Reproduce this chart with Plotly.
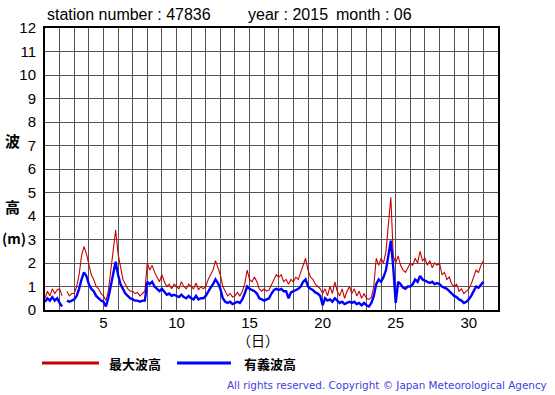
import plotly.graph_objects as go

# Observation times (hours from 1 June 00:00, 4-hourly)
hours = list(range(0, 724, 4))

# 最大波高 (maximum wave height, m) - 6 values per day, plus final point
max_wave = [
    0.5, 0.8, 0.6, 0.9, 0.7, 0.85,   # 1
    0.9, 0.6, None, 0.8, 0.6, 0.7,   # 2
    0.7, 1.0, 1.5, 2.3, 2.7, 2.4,    # 3
    1.9, 1.5, 1.3, 1.0, 0.9, 0.7,    # 4
    0.6, 0.4, 0.8, 1.6, 2.6, 3.4,    # 5
    2.4, 1.8, 1.3, 1.1, 0.9, 0.8,    # 6
    0.8, 0.7, 0.75, 0.6, 0.7, 0.8,   # 7
    2.0, 1.7, 1.9, 1.6, 1.4, 1.2,    # 8
    1.5, 1.2, 1.0, 1.1, 0.9, 1.1,    # 9
    1.0, 0.9, 1.2, 1.0, 0.9, 1.1,    # 10
    1.0, 0.9, 1.15, 0.85, 1.0, 0.9,  # 11
    1.0, 1.3, 1.5, 1.7, 2.1, 1.8,    # 12
    1.5, 1.0, 0.8, 0.6, 0.7, 0.55,   # 13
    0.6, 0.75, 0.6, 0.8, 1.1, 1.7,   # 14
    1.3, 1.2, 1.4, 1.2, 0.9, 0.8,    # 15
    0.9, 0.8, 0.85, 1.1, 1.3, 1.5,   # 16
    1.4, 1.5, 1.2, 1.3, 1.1, 1.3,    # 17
    1.2, 1.4, 1.3, 1.6, 1.9, 2.2,    # 18
    1.7, 1.4, 1.3, 1.1, 1.0, 0.9,    # 19
    0.7, 0.9, 0.6, 1.0, 0.7, 1.2,    # 20
    0.8, 0.6, 0.9, 0.5, 0.8, 1.0,    # 21
    0.7, 0.9, 0.6, 0.8, 0.5, 0.7,    # 22
    0.5, 0.45, 0.55, 1.0, 2.2, 1.9,  # 23
    2.2, 2.0, 2.5, 3.6, 4.8, 2.3,    # 24
    2.0, 2.3, 1.9, 1.7, 1.6, 1.8,    # 25
    2.0, 1.9, 2.2, 2.0, 2.5, 2.1,    # 26
    2.2, 1.9, 2.1, 1.8, 2.0, 1.9,    # 27
    2.0, 1.5, 1.6, 1.3, 1.4, 1.1,    # 28
    1.0, 1.1, 0.8, 0.9, 0.7, 0.8,    # 29
    0.9, 1.1, 1.4, 1.7, 1.6, 1.9,    # 30
    2.1,
]

# 有義波高 (significant wave height, m)
sig_wave = [
    0.35, 0.5, 0.4, 0.55, 0.4, 0.5,  # 1
    0.3, 0.15, None, 0.4, 0.35, 0.4, # 2
    0.45, 0.6, 0.9, 1.3, 1.6, 1.45,  # 3
    1.1, 0.9, 0.8, 0.6, 0.5, 0.4,    # 4
    0.35, 0.15, 0.5, 1.0, 1.6, 2.05, # 5
    1.5, 1.1, 0.9, 0.7, 0.6, 0.5,    # 6
    0.45, 0.4, 0.4, 0.35, 0.4, 0.4,  # 7
    1.2, 1.1, 1.2, 1.0, 0.9, 0.8,    # 8
    0.9, 0.75, 0.65, 0.7, 0.6, 0.65, # 9
    0.6, 0.55, 0.65, 0.55, 0.5, 0.6, # 10
    0.5, 0.45, 0.6, 0.45, 0.5, 0.5,  # 11
    0.6, 0.8, 0.95, 1.1, 1.3, 1.15,  # 12
    0.9, 0.5, 0.35, 0.3, 0.35, 0.25, # 13
    0.3, 0.35, 0.3, 0.45, 0.7, 1.0,  # 14
    0.9, 0.85, 0.8, 0.7, 0.5, 0.45,  # 15
    0.4, 0.45, 0.5, 0.7, 0.85, 0.9,  # 16
    0.85, 0.9, 0.8, 0.8, 0.5, 0.75,  # 17
    0.8, 0.85, 0.9, 1.0, 1.2, 1.3,   # 18
    1.0, 0.9, 0.85, 0.75, 0.7, 0.6,  # 19
    0.2, 0.5, 0.4, 0.45, 0.35, 0.5,  # 20
    0.4, 0.3, 0.35, 0.25, 0.3, 0.35, # 21
    0.3, 0.35, 0.25, 0.3, 0.2, 0.3,  # 22
    0.2, 0.15, 0.3, 0.6, 1.1, 1.3,   # 23
    1.2, 1.4, 1.7, 2.3, 2.95, 1.8,   # 24
    0.3, 1.2, 1.1, 0.95, 0.9, 1.0,   # 25
    1.0, 1.1, 1.3, 1.2, 1.45, 1.3,   # 26
    1.25, 1.2, 1.15, 1.2, 1.1, 1.15, # 27
    1.1, 1.0, 0.95, 0.9, 0.8, 0.7,   # 28
    0.6, 0.55, 0.45, 0.4, 0.3, 0.35, # 29
    0.45, 0.6, 0.8, 1.0, 0.95, 1.1,  # 30
    1.2,
]

day_ticks = list(range(1, 33))
day_labels = [str(d) if d % 5 == 0 else "" for d in day_ticks]
height_ticks = list(range(0, 13))

station = "47836"
year = "2015"
month = "06"

days = [1 + h / 24 for h in hours]

RED = "#cc0000"
BLUE = "#0000ff"

fig = go.Figure()
fig.add_trace(go.Scatter(x=days, y=max_wave, mode="lines",
                         line=dict(color=RED, width=1.1), connectgaps=False,
                         showlegend=False))
fig.add_trace(go.Scatter(x=days, y=sig_wave, mode="lines",
                         line=dict(color=BLUE, width=2.4), connectgaps=False,
                         showlegend=False))

fig.update_layout(
    width=555, height=395,
    margin=dict(l=45, r=57, t=28, b=85),
    paper_bgcolor="white", plot_bgcolor="white",
    font=dict(family="Liberation Sans, Arial", color="black"),
    showlegend=False,
)
fig.update_xaxes(range=[1, 32], tickvals=day_ticks, ticktext=day_labels,
                 showgrid=True, gridcolor="#555555", gridwidth=1,
                 showline=True, linecolor="black", linewidth=2, mirror=True,
                 ticks="", tickfont=dict(size=15, family="Liberation Sans"),
                 ticklabelstandoff=-2, zeroline=False)
fig.update_yaxes(range=[0, 12], tickvals=height_ticks,
                 showgrid=True, gridcolor="#555555", gridwidth=1,
                 showline=True, linecolor="black", linewidth=2, mirror=True,
                 ticks="", tickfont=dict(size=15, family="Liberation Sans"),
                 ticklabelstandoff=4, zeroline=False,
                 tickprefix="<b>", ticksuffix="</b>")

def ann(text, x, y, size=14, xanchor="left", color="black", family="Liberation Sans", bold=False):
    if bold:
        text = "<b>" + text + "</b>"
    fig.add_annotation(text=text, x=x, y=y, xref="paper", yref="paper",
                       xanchor=xanchor, yanchor="middle", showarrow=False,
                       font=dict(size=size, color=color, family=family))

W, H = 453, 282  # plot area size in px
def px(x):
    return (x - 45) / W
def py(y):
    return (310 - y) / H

ann("station number : " + station, px(128.5), py(15), size=16, xanchor="center")
ann("year : " + year, px(287.5), py(15), size=16, xanchor="center")
ann("month : " + month, px(374), py(15), size=16, xanchor="center")

cjk = "Noto Sans CJK JP"
ann("波", px(12), py(140), size=15, xanchor="center", family=cjk, bold=True)
ann("高", px(12), py(206), size=15, xanchor="center", family=cjk, bold=True)
ann("(m)", px(14), py(238), size=14, xanchor="center", family=cjk, bold=True)
ann("（日）", px(258), py(340), size=14, xanchor="center", family=cjk)

fig.add_shape(type="line", xref="paper", yref="paper",
              x0=px(42), x1=px(99), y0=py(363), y1=py(363),
              line=dict(color=RED, width=3))
fig.add_shape(type="line", xref="paper", yref="paper",
              x0=px(177), x1=px(231), y0=py(363), y1=py(363),
              line=dict(color=BLUE, width=3))
ann("最大波高", px(107), py(363), size=13, family=cjk, bold=True)
ann("有義波高", px(242), py(363), size=13, family=cjk, bold=True)

ann("All rights reserved. Copyright © Japan Meteorological Agency",
    px(549), py(385), size=10.4, xanchor="right", color="#4040e0",
    family="DejaVu Sans")

fig.write_html("out.html", config={"displayModeBar": False},
               post_script="document.body.style.margin='0';document.body.style.overflow='hidden';")
